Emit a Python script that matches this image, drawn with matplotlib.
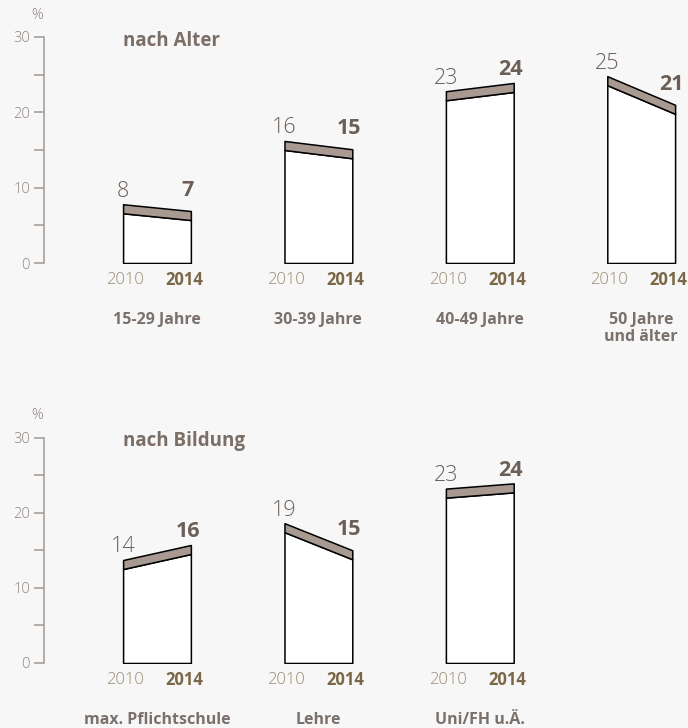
import matplotlib
matplotlib.use('Agg')
import matplotlib.pyplot as plt

plt.rcParams['font.family'] = ['Open Sans', 'DejaVu Sans']

# shares in %, 2010 vs 2014
years = ['2010', '2014']
age_groups = ['15-29 Jahre', '30-39 Jahre', '40-49 Jahre', '50 Jahre\nund älter']
age_2010 = [7.8, 16.2, 22.8, 24.8]
age_2014 = [6.9, 15.1, 23.9, 21.0]
edu_groups = ['max. Pflichtschule', 'Lehre', 'Uni/FH u.Ä.']
edu_2010 = [13.7, 18.6, 23.2]
edu_2014 = [15.7, 15.0, 23.9]

bg = '#f7f7f7'
band_col = '#a89991'
axis_col = '#a9a09a'
tick_txt = '#8e8580'
val_col = '#6b5f57'
year_light = '#9a8b72'
year_bold = '#7a6747'
cat_col = '#7a716c'
title_col = '#7a6e66'

half = 0.21      # half width of a box (group units)
band = 1.2       # thickness of the top band (% units)

fig = plt.figure(figsize=(6.88, 7.28), dpi=100, facecolor=bg)


def panel(rect, title, groups, v10, v14):
    ax = fig.add_axes(rect, facecolor=bg)
    ax.set_xlim(-0.70, 3.29)
    ax.set_ylim(0, 30)
    for s in ['top', 'right', 'bottom']:
        ax.spines[s].set_visible(False)
    ax.spines['left'].set_color(axis_col)
    ax.spines['left'].set_linewidth(1.2)
    ax.spines['left'].set_position(('data', -0.70))
    ax.set_yticks([0, 10, 20, 30])
    ax.set_yticks([5, 15, 25], minor=True)
    ax.tick_params(axis='y', which='both', length=7, width=1.2, color=axis_col,
                   labelcolor=tick_txt, labelsize=10.5, pad=3)
    for lab in ax.get_yticklabels():
        lab.set_fontweight('light')
    ax.set_xticks([])
    ax.text(-0.745, 32.9, '%', ha='center', va='center', fontsize=10.5,
            color=tick_txt, fontweight='light', clip_on=False)
    ax.text(-0.21, 29.5, title, ha='left', va='center', fontsize=13.5,
            fontweight='bold', color=title_col)

    for i, (g, a, b) in enumerate(zip(groups, v10, v14)):
        xs = [i - half, i + half]
        ax.fill_between(xs, [0, 0], [a - band, b - band], facecolor='white',
                        edgecolor='black', linewidth=1.1, zorder=2)
        ax.fill_between(xs, [a - band, b - band], [a, b], facecolor=band_col,
                        edgecolor='black', linewidth=1.1, zorder=3)
        up = 0.35
        ax.text(i - half, a + up, f'{a:.0f}', ha='center', va='bottom',
                fontsize=15.5, fontweight='light', color=val_col)
        off14 = up + (1.0 if b < a else 0.0)
        ax.text(i + half - 0.02, b + off14, f'{b:.0f}', ha='center', va='bottom',
                fontsize=15.5, fontweight='bold', color=val_col)
        ax.text(i - half + 0.01, -2.3, years[0], ha='center', va='center',
                fontsize=12, fontweight='light', color=year_light, clip_on=False)
        ax.text(i + half - 0.04, -2.3, years[1], ha='center', va='center',
                fontsize=12, fontweight='bold', color=year_bold, clip_on=False)
        ax.text(i, -6.5, g, ha='center', va='top', fontsize=11.5,
                fontweight='bold', color=cat_col, linespacing=1.1, clip_on=False)
    return ax


left = 44 / 688
width = 1 - left
panel([left, 1 - 263 / 728, width, 226 / 728], 'nach Alter', age_groups, age_2010, age_2014)
panel([left, 1 - 663 / 728, width, 225.5 / 728], 'nach Bildung', edu_groups, edu_2010, edu_2014)

fig.savefig('out.png', dpi=100, facecolor=bg)
